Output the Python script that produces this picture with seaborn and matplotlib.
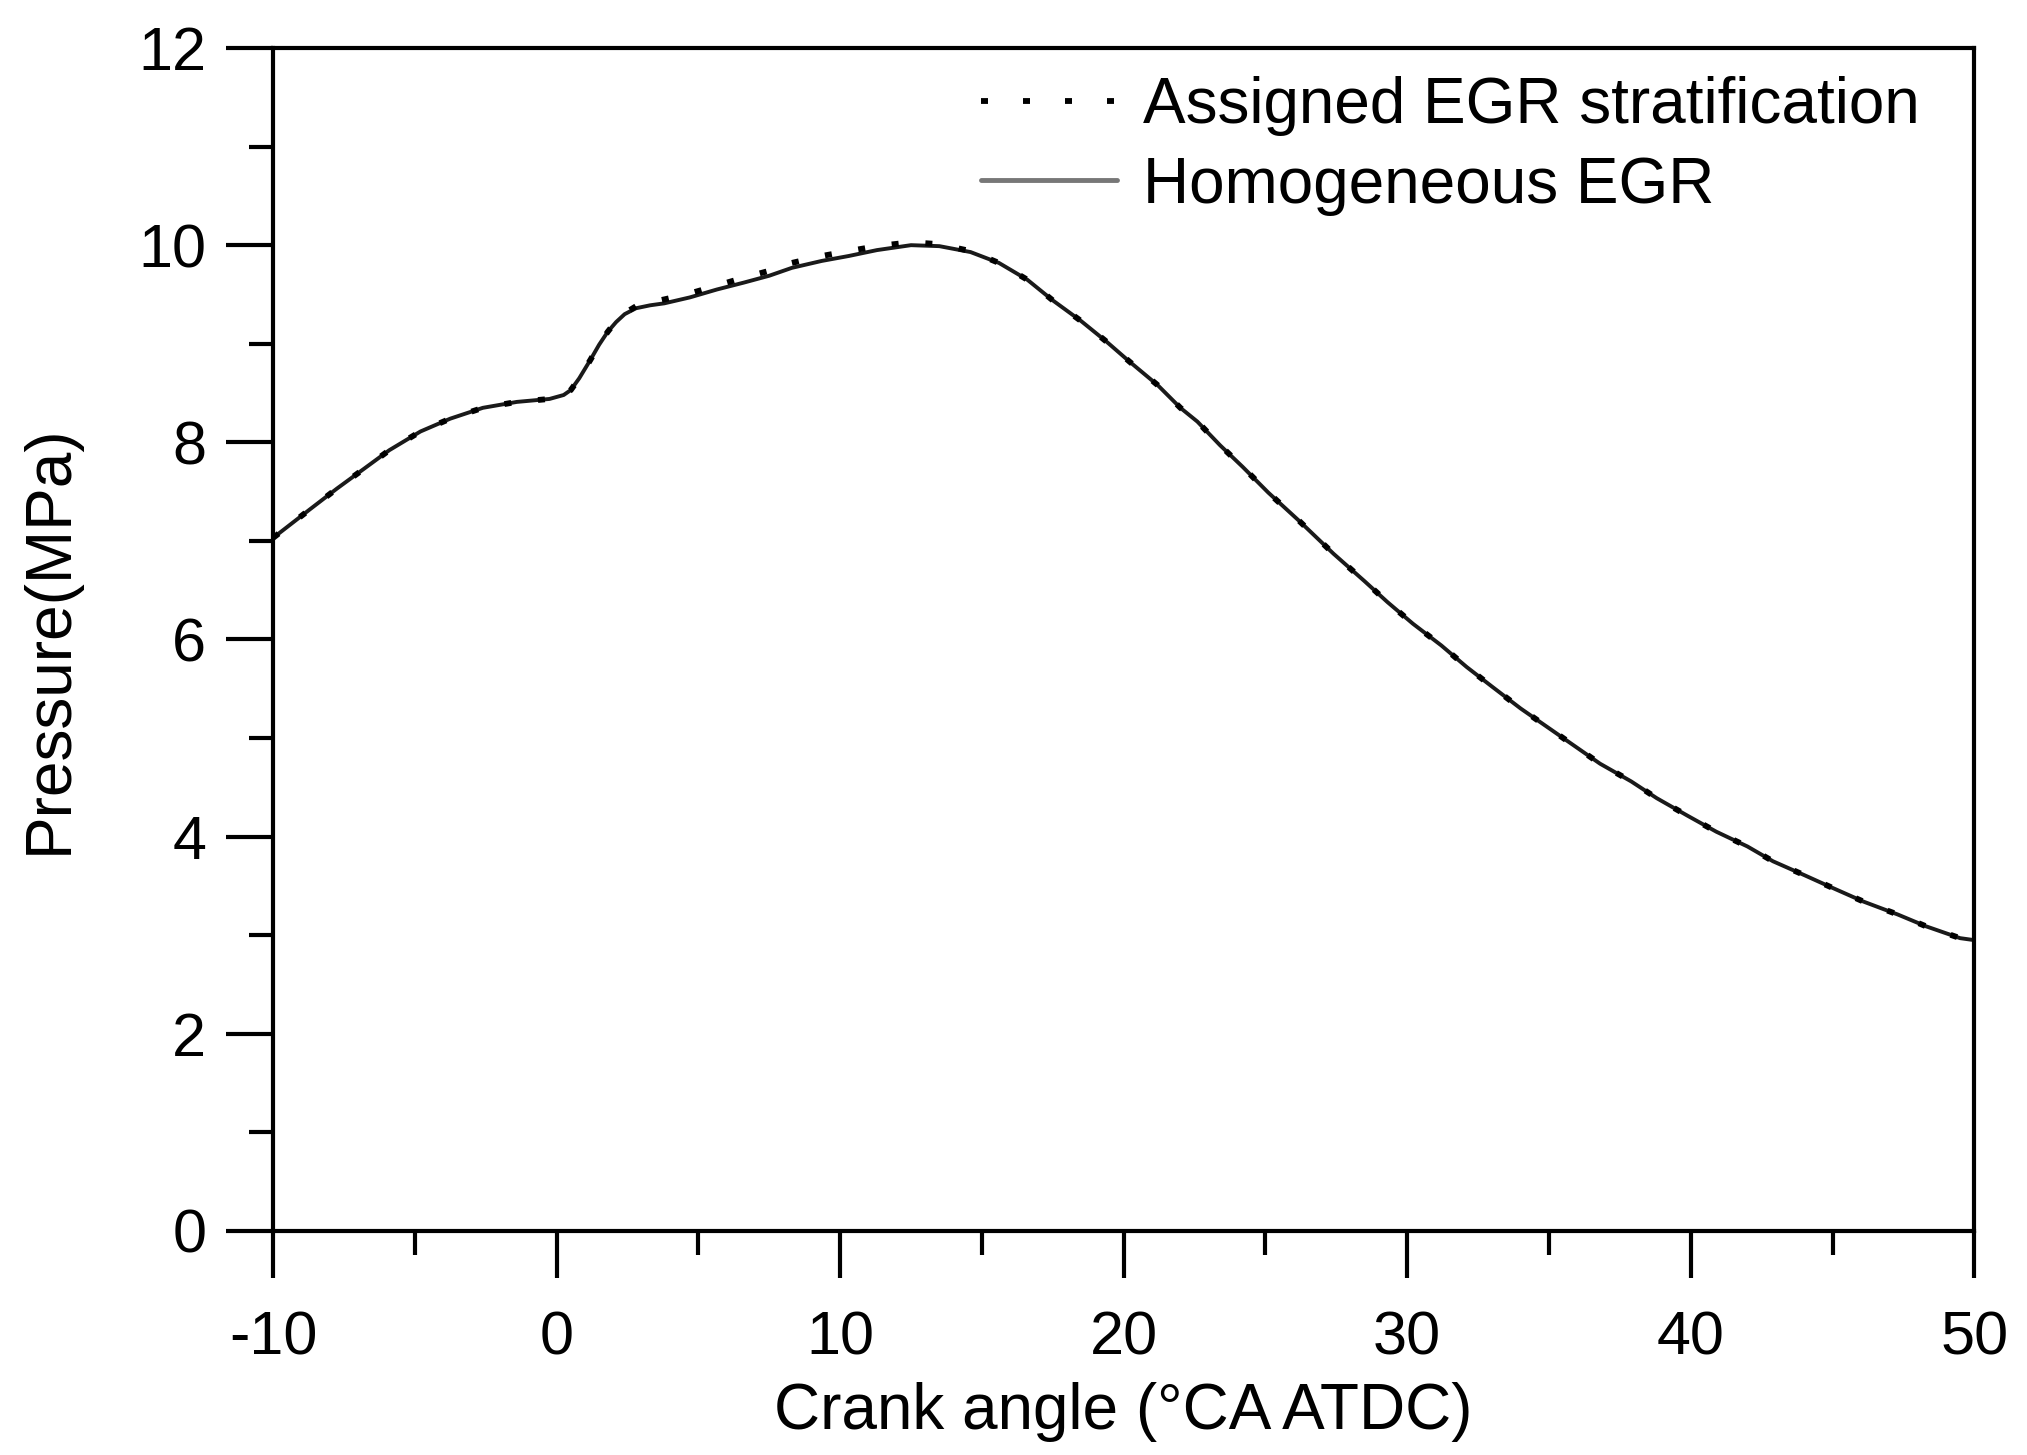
import numpy as np
import pandas as pd
import seaborn as sns
import matplotlib.pyplot as plt
from matplotlib.lines import Line2D
from matplotlib.ticker import MultipleLocator

crank = [-10, -8.7, -7.75, -6.8, -5.9, -4.8, -3.75, -2.6, -1.4, -0.25,
         0.25, 0.5, 0.8, 1.2, 1.5, 1.8, 2.1, 2.4, 2.8, 3.3,
         3.8, 4.7, 5.65, 6.6, 7.5, 8.3, 9.35, 10.3, 11.3, 12.5,
         13.5, 14.6, 15.6, 16.6, 17.5, 18.5, 19.4, 20.2, 21.2, 22.0,
         22.6, 23.4, 24.2, 25.1, 26.2, 27.4, 28.5, 29.3, 30.2, 31.2,
         32.1, 33.0, 34.0, 34.9, 35.9, 36.8, 37.9, 38.8, 39.9, 40.9,
         42.0, 42.9, 44.0, 45.0, 46.1, 47.3, 48.3, 49.5, 50]

assigned = [7.03, 7.32, 7.53, 7.73, 7.92, 8.11, 8.24, 8.35, 8.41, 8.44,
            8.48, 8.53, 8.65, 8.84, 8.99, 9.12, 9.23, 9.31, 9.38, 9.42,
            9.45, 9.51, 9.59, 9.67, 9.74, 9.82, 9.89, 9.94, 9.99, 10.03,
            10.01, 9.94, 9.82, 9.65, 9.44, 9.23, 9.02, 8.82, 8.58, 8.35,
            8.21, 7.97, 7.75, 7.49, 7.20, 6.87, 6.59, 6.38, 6.16, 5.94,
            5.72, 5.52, 5.30, 5.12, 4.92, 4.74, 4.56, 4.39, 4.21, 4.05,
            3.90, 3.75, 3.61, 3.48, 3.34, 3.21, 3.09, 2.97, 2.95]

homogeneous = [7.03, 7.32, 7.53, 7.73, 7.92, 8.11, 8.24, 8.35, 8.41, 8.44,
               8.48, 8.53, 8.65, 8.84, 8.99, 9.12, 9.22, 9.30, 9.36, 9.39,
               9.41, 9.47, 9.55, 9.62, 9.69, 9.77, 9.84, 9.89, 9.95, 10.00,
               9.99, 9.93, 9.82, 9.65, 9.44, 9.23, 9.02, 8.82, 8.58, 8.35,
               8.21, 7.97, 7.75, 7.49, 7.20, 6.87, 6.59, 6.38, 6.16, 5.94,
               5.72, 5.52, 5.30, 5.12, 4.92, 4.74, 4.56, 4.39, 4.21, 4.05,
               3.90, 3.75, 3.61, 3.48, 3.34, 3.21, 3.09, 2.97, 2.95]

xticks = [-10, 0, 10, 20, 30, 40, 50]
yticks = [0, 2, 4, 6, 8, 10, 12]

sns.set_theme(style="ticks")
plt.rcParams["font.family"] = ["Liberation Sans", "DejaVu Sans"]
plt.rcParams["axes.unicode_minus"] = False
plt.rcParams["text.color"] = "black"
plt.rcParams["axes.labelcolor"] = "black"

df = pd.DataFrame({"crank": crank, "assigned": assigned, "homogeneous": homogeneous})

fig = plt.figure(figsize=(20.27, 14.55), dpi=100)
ax = fig.add_axes([0.1347, 0.154, 0.8393, 0.813])

sns.lineplot(data=df, x="crank", y="homogeneous", ax=ax, color="#1a1a1a", linewidth=2.8,
             sort=False, estimator=None)
sns.lineplot(data=df, x="crank", y="assigned", ax=ax, color="black", linewidth=4.2,
             linestyle=(0, (1.2, 4.6)), sort=False, estimator=None)

ax.set_xlim(-10, 50)
ax.set_ylim(0, 12)
ax.set_xticks(xticks)
ax.set_yticks(yticks)
ax.xaxis.set_minor_locator(MultipleLocator(5))
ax.yaxis.set_minor_locator(MultipleLocator(1))
ax.tick_params(which="major", direction="out", length=34, width=3, labelsize=44, colors="black")
ax.tick_params(which="minor", direction="out", length=17, width=3, colors="black")
ax.tick_params(axis="x", which="major", pad=23)
ax.tick_params(axis="y", which="major", pad=14)
for s in ax.spines.values():
    s.set_linewidth(3)
    s.set_color("black")

ax.set_xlabel("Crank angle (°CA ATDC)", fontsize=46, labelpad=11)
ax.set_ylabel("Pressure(MPa)", fontsize=46, labelpad=42)

# legend handles drawn by hand: 5 dots and a grey line as in the original
dot_handle = Line2D([], [], color="black", linewidth=4.2, linestyle=(0, (1.2, 6.0)))
solid_handle = Line2D([], [], color="#777777", linewidth=3.5)
ax.legend([dot_handle, solid_handle], ["Assigned EGR stratification", "Homogeneous EGR"],
          loc="upper left", bbox_to_anchor=(0.416, 0.976),
          frameon=False, fontsize=46, handlelength=2.14, handletextpad=0.4,
          labelspacing=0.3, borderpad=0, borderaxespad=0)

fig.savefig("out.png", dpi=100)
